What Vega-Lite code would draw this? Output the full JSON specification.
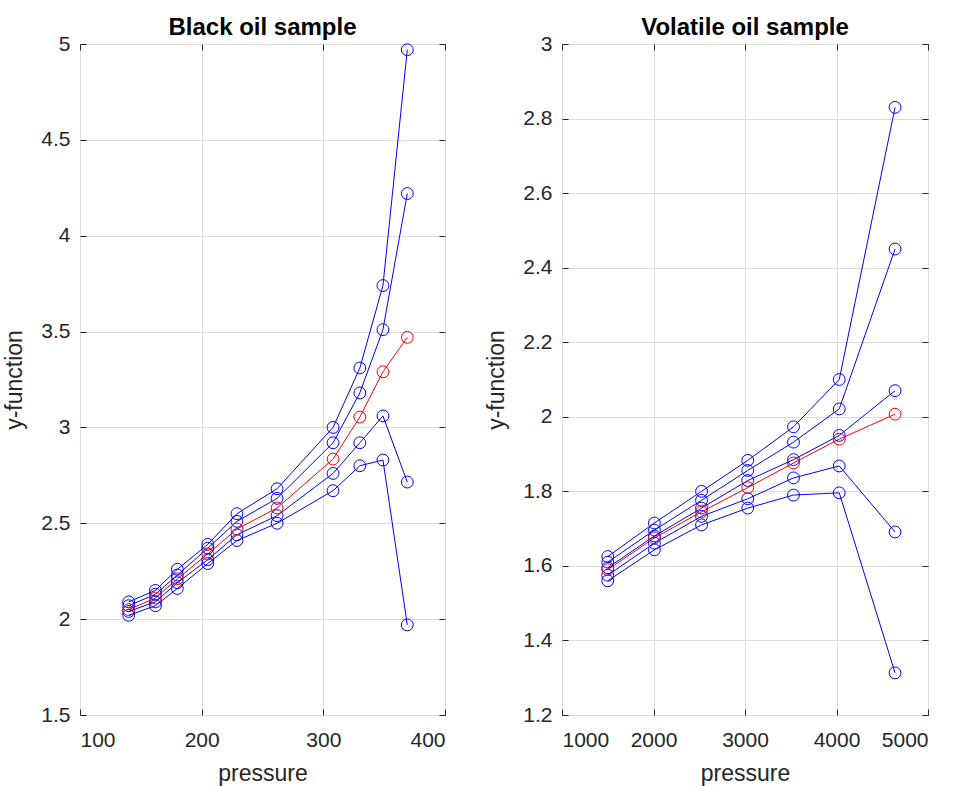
{
  "$schema": "https://vega.github.io/schema/vega-lite/v6.json",
  "background": "white",
  "autosize": {"type": "none"},
  "padding": {"left": 80, "top": 44, "right": 879, "bottom": 742},
  "spacing": 39,
  "datasets": {
    "black": [
      {"series": "A", "kind": "sample", "pressure": 140, "y": 2.09},
      {"series": "A", "kind": "sample", "pressure": 162, "y": 2.15},
      {"series": "A", "kind": "sample", "pressure": 180, "y": 2.26},
      {"series": "A", "kind": "sample", "pressure": 205, "y": 2.39},
      {"series": "A", "kind": "sample", "pressure": 229, "y": 2.55},
      {"series": "A", "kind": "sample", "pressure": 262, "y": 2.68},
      {"series": "A", "kind": "sample", "pressure": 308, "y": 3.00},
      {"series": "A", "kind": "sample", "pressure": 330, "y": 3.31},
      {"series": "A", "kind": "sample", "pressure": 349, "y": 3.74},
      {"series": "A", "kind": "sample", "pressure": 369, "y": 4.97},
      {"series": "B", "kind": "sample", "pressure": 140, "y": 2.07},
      {"series": "B", "kind": "sample", "pressure": 162, "y": 2.13},
      {"series": "B", "kind": "sample", "pressure": 180, "y": 2.23},
      {"series": "B", "kind": "sample", "pressure": 205, "y": 2.37},
      {"series": "B", "kind": "sample", "pressure": 229, "y": 2.51},
      {"series": "B", "kind": "sample", "pressure": 262, "y": 2.63},
      {"series": "B", "kind": "sample", "pressure": 308, "y": 2.92},
      {"series": "B", "kind": "sample", "pressure": 330, "y": 3.18},
      {"series": "B", "kind": "sample", "pressure": 349, "y": 3.51},
      {"series": "B", "kind": "sample", "pressure": 369, "y": 4.22},
      {"series": "C", "kind": "sample", "pressure": 140, "y": 2.04},
      {"series": "C", "kind": "sample", "pressure": 162, "y": 2.09},
      {"series": "C", "kind": "sample", "pressure": 180, "y": 2.19},
      {"series": "C", "kind": "sample", "pressure": 205, "y": 2.31},
      {"series": "C", "kind": "sample", "pressure": 229, "y": 2.44},
      {"series": "C", "kind": "sample", "pressure": 262, "y": 2.54},
      {"series": "C", "kind": "sample", "pressure": 308, "y": 2.76},
      {"series": "C", "kind": "sample", "pressure": 330, "y": 2.92},
      {"series": "C", "kind": "sample", "pressure": 349, "y": 3.06},
      {"series": "C", "kind": "sample", "pressure": 369, "y": 2.715},
      {"series": "D", "kind": "sample", "pressure": 140, "y": 2.02},
      {"series": "D", "kind": "sample", "pressure": 162, "y": 2.07},
      {"series": "D", "kind": "sample", "pressure": 180, "y": 2.16},
      {"series": "D", "kind": "sample", "pressure": 205, "y": 2.29},
      {"series": "D", "kind": "sample", "pressure": 229, "y": 2.41},
      {"series": "D", "kind": "sample", "pressure": 262, "y": 2.50},
      {"series": "D", "kind": "sample", "pressure": 308, "y": 2.67},
      {"series": "D", "kind": "sample", "pressure": 330, "y": 2.80},
      {"series": "D", "kind": "sample", "pressure": 349, "y": 2.83},
      {"series": "D", "kind": "sample", "pressure": 369, "y": 1.97},
      {"series": "R", "kind": "mean", "pressure": 140, "y": 2.05},
      {"series": "R", "kind": "mean", "pressure": 162, "y": 2.11},
      {"series": "R", "kind": "mean", "pressure": 180, "y": 2.21},
      {"series": "R", "kind": "mean", "pressure": 205, "y": 2.34},
      {"series": "R", "kind": "mean", "pressure": 229, "y": 2.47},
      {"series": "R", "kind": "mean", "pressure": 262, "y": 2.58},
      {"series": "R", "kind": "mean", "pressure": 308, "y": 2.835},
      {"series": "R", "kind": "mean", "pressure": 330, "y": 3.054},
      {"series": "R", "kind": "mean", "pressure": 349, "y": 3.29},
      {"series": "R", "kind": "mean", "pressure": 369, "y": 3.47}
    ],
    "volatile": [
      {"series": "A", "kind": "sample", "pressure": 1500, "y": 1.625},
      {"series": "A", "kind": "sample", "pressure": 2010, "y": 1.715},
      {"series": "A", "kind": "sample", "pressure": 2525, "y": 1.80},
      {"series": "A", "kind": "sample", "pressure": 3030, "y": 1.883},
      {"series": "A", "kind": "sample", "pressure": 3530, "y": 1.973},
      {"series": "A", "kind": "sample", "pressure": 4030, "y": 2.10},
      {"series": "A", "kind": "sample", "pressure": 4640, "y": 2.83},
      {"series": "B", "kind": "sample", "pressure": 1500, "y": 1.61},
      {"series": "B", "kind": "sample", "pressure": 2010, "y": 1.696},
      {"series": "B", "kind": "sample", "pressure": 2525, "y": 1.776},
      {"series": "B", "kind": "sample", "pressure": 3030, "y": 1.856},
      {"series": "B", "kind": "sample", "pressure": 3530, "y": 1.932},
      {"series": "B", "kind": "sample", "pressure": 4030, "y": 2.021},
      {"series": "B", "kind": "sample", "pressure": 4640, "y": 2.45},
      {"series": "C", "kind": "sample", "pressure": 1500, "y": 1.595},
      {"series": "C", "kind": "sample", "pressure": 2010, "y": 1.68},
      {"series": "C", "kind": "sample", "pressure": 2525, "y": 1.755},
      {"series": "C", "kind": "sample", "pressure": 3030, "y": 1.829},
      {"series": "C", "kind": "sample", "pressure": 3530, "y": 1.885},
      {"series": "C", "kind": "sample", "pressure": 4030, "y": 1.95},
      {"series": "C", "kind": "sample", "pressure": 4640, "y": 2.07},
      {"series": "D", "kind": "sample", "pressure": 1500, "y": 1.575},
      {"series": "D", "kind": "sample", "pressure": 2010, "y": 1.661},
      {"series": "D", "kind": "sample", "pressure": 2525, "y": 1.733},
      {"series": "D", "kind": "sample", "pressure": 3030, "y": 1.78},
      {"series": "D", "kind": "sample", "pressure": 3530, "y": 1.836},
      {"series": "D", "kind": "sample", "pressure": 4030, "y": 1.868},
      {"series": "D", "kind": "sample", "pressure": 4640, "y": 1.691},
      {"series": "E", "kind": "sample", "pressure": 1500, "y": 1.56},
      {"series": "E", "kind": "sample", "pressure": 2010, "y": 1.643},
      {"series": "E", "kind": "sample", "pressure": 2525, "y": 1.71},
      {"series": "E", "kind": "sample", "pressure": 3030, "y": 1.755},
      {"series": "E", "kind": "sample", "pressure": 3530, "y": 1.79},
      {"series": "E", "kind": "sample", "pressure": 4030, "y": 1.796},
      {"series": "E", "kind": "sample", "pressure": 4640, "y": 1.313},
      {"series": "R", "kind": "mean", "pressure": 1500, "y": 1.59},
      {"series": "R", "kind": "mean", "pressure": 2010, "y": 1.675},
      {"series": "R", "kind": "mean", "pressure": 2525, "y": 1.745},
      {"series": "R", "kind": "mean", "pressure": 3030, "y": 1.81},
      {"series": "R", "kind": "mean", "pressure": 3530, "y": 1.876},
      {"series": "R", "kind": "mean", "pressure": 4030, "y": 1.94},
      {"series": "R", "kind": "mean", "pressure": 4640, "y": 2.007}
    ]
  },
  "hconcat": [
    {
      "width": 365,
      "height": 671,
      "data": {"name": "black"},
      "title": {"text": "Black oil sample"},
      "encoding": {
        "color": {"field": "kind", "type": "nominal", "scale": {"domain": ["sample", "mean"], "range": ["#0000ff", "#ff0000"]}, "legend": null},
        "detail": {"field": "series", "type": "nominal"}
      },
      "layer": [
        {
          "mark": {"type": "line", "strokeWidth": 1},
          "encoding": {
            "x": {"field": "pressure", "type": "quantitative", "scale": {"domain": [100, 400], "nice": false, "zero": false},
                  "axis": {"values": [100, 200, 300, 400], "format": "d", "title": "pressure"}},
            "y": {"field": "y", "type": "quantitative", "scale": {"domain": [1.5, 5], "nice": false, "zero": false},
                  "axis": {"values": [1.5, 2, 2.5, 3, 3.5, 4, 4.5, 5], "format": "~g", "title": "y-function"}}
          }
        },
        {
          "mark": {"type": "point", "shape": "circle", "filled": false, "size": 140, "strokeWidth": 1, "opacity": 1},
          "encoding": {
            "x": {"field": "pressure", "type": "quantitative", "scale": {"domain": [100, 400], "nice": false, "zero": false},
                  "axis": {"orient": "top", "values": [100, 200, 300, 400], "labels": false, "grid": false, "domain": false, "title": null}},
            "y": {"field": "y", "type": "quantitative", "scale": {"domain": [1.5, 5], "nice": false, "zero": false},
                  "axis": {"orient": "right", "values": [1.5, 2, 2.5, 3, 3.5, 4, 4.5, 5], "labels": false, "grid": false, "domain": false, "title": null}}
          }
        }
      ],
      "resolve": {"axis": {"x": "independent", "y": "independent"}}
    },
    {
      "width": 366,
      "height": 671,
      "data": {"name": "volatile"},
      "title": {"text": "Volatile oil sample"},
      "encoding": {
        "color": {"field": "kind", "type": "nominal", "scale": {"domain": ["sample", "mean"], "range": ["#0000ff", "#ff0000"]}, "legend": null},
        "detail": {"field": "series", "type": "nominal"}
      },
      "layer": [
        {
          "mark": {"type": "line", "strokeWidth": 1},
          "encoding": {
            "x": {"field": "pressure", "type": "quantitative", "scale": {"domain": [1000, 5000], "nice": false, "zero": false},
                  "axis": {"values": [1000, 2000, 3000, 4000, 5000], "format": "d", "title": "pressure"}},
            "y": {"field": "y", "type": "quantitative", "scale": {"domain": [1.2, 3], "nice": false, "zero": false},
                  "axis": {"values": [1.2, 1.4, 1.6, 1.8, 2, 2.2, 2.4, 2.6, 2.8, 3], "format": "~g", "title": "y-function"}}
          }
        },
        {
          "mark": {"type": "point", "shape": "circle", "filled": false, "size": 140, "strokeWidth": 1, "opacity": 1},
          "encoding": {
            "x": {"field": "pressure", "type": "quantitative", "scale": {"domain": [1000, 5000], "nice": false, "zero": false},
                  "axis": {"orient": "top", "values": [1000, 2000, 3000, 4000, 5000], "labels": false, "grid": false, "domain": false, "title": null}},
            "y": {"field": "y", "type": "quantitative", "scale": {"domain": [1.2, 3], "nice": false, "zero": false},
                  "axis": {"orient": "right", "values": [1.2, 1.4, 1.6, 1.8, 2, 2.2, 2.4, 2.6, 2.8, 3], "labels": false, "grid": false, "domain": false, "title": null}}
          }
        }
      ],
      "resolve": {"axis": {"x": "independent", "y": "independent"}}
    }
  ],
  "config": {
    "font": "Liberation Sans",
    "view": {"stroke": "#262626", "strokeWidth": 1},
    "axis": {
      "grid": true,
      "gridColor": "#dcdcdc",
      "gridWidth": 1,
      "domain": false,
      "ticks": true,
      "tickSize": -6,
      "tickColor": "#262626",
      "tickWidth": 1,
      "labelFont": "Liberation Sans",
      "labelFontSize": 21,
      "labelColor": "#262626",
      "titleFont": "Liberation Sans",
      "titleFontSize": 23,
      "titleFontWeight": "normal",
      "titleColor": "#262626"
    },
    "axisX": {"labelPadding": 20, "titlePadding": 12},
    "axisY": {"labelPadding": 16, "titlePadding": 14},
    "title": {"font": "Liberation Sans", "fontSize": 24, "fontWeight": "bold", "color": "#000000", "offset": -7, "anchor": "middle"}
  }
}
